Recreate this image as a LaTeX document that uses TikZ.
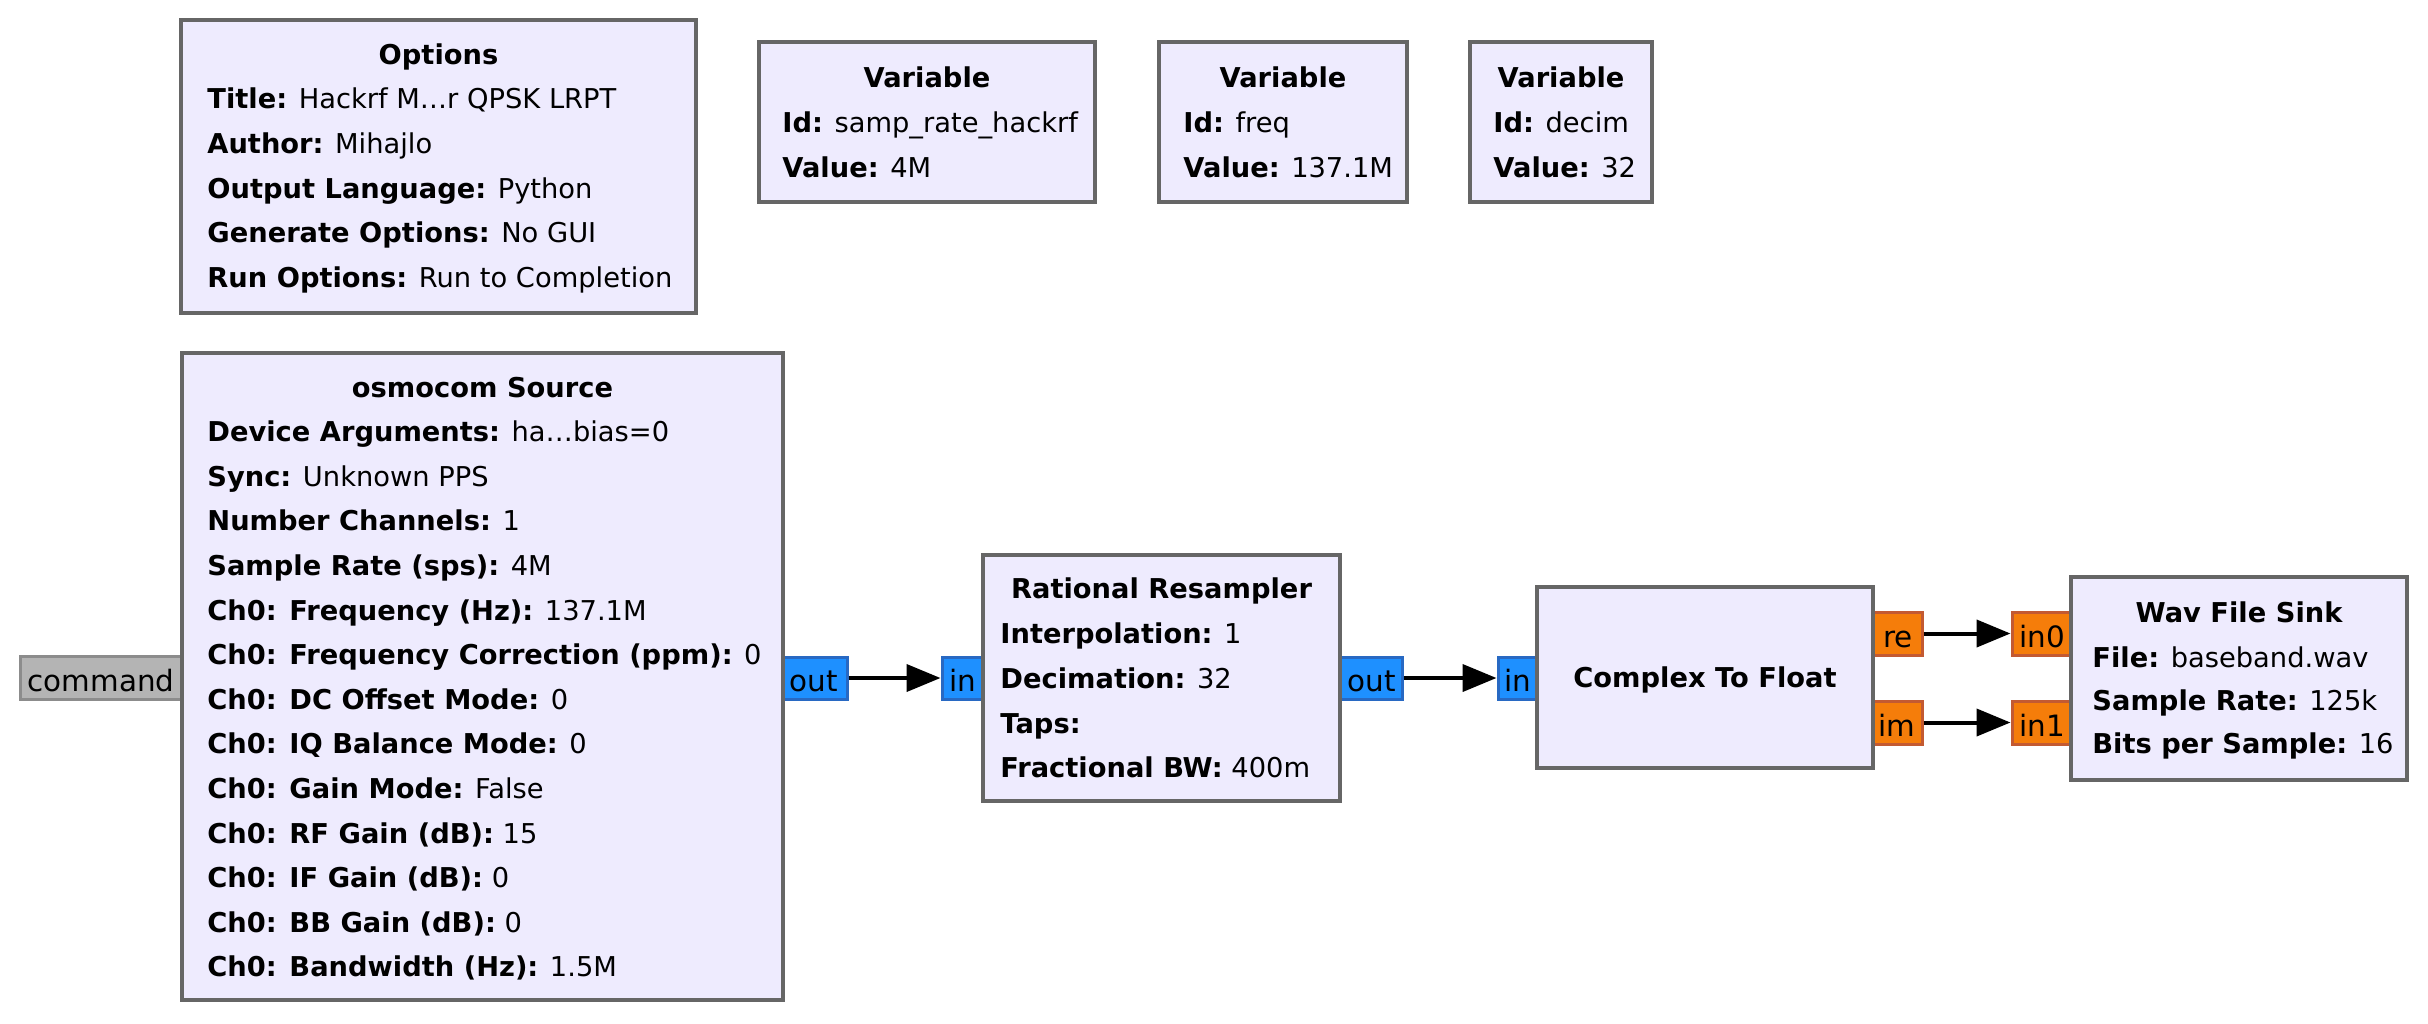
\documentclass[tikz,border=0pt]{standalone}
\usepackage{fontspec}
\setmainfont{DejaVu Sans}
\usetikzlibrary{arrows.meta,fit}
\definecolor{blkfill}{RGB}{238,235,254}
\definecolor{blkdraw}{RGB}{102,102,102}
\definecolor{bluefill}{RGB}{30,144,255}
\definecolor{bluedraw}{RGB}{40,105,195}
\definecolor{orfill}{RGB}{245,125,10}
\definecolor{ordraw}{RGB}{195,90,50}
\definecolor{cmdfill}{RGB}{180,180,180}
\definecolor{cmddraw}{RGB}{140,140,140}
\begin{document}
\begin{tikzpicture}[x=0.5pt,y=-0.5pt,
  blk/.style={draw=blkdraw,fill=blkfill,line width=2.25pt,inner sep=0pt},
  txt/.style={anchor=base west,inner sep=0pt,font=\fontsize{13.65pt}{16pt}\selectfont},
  ttl/.style={anchor=base,inner sep=0pt,font=\fontsize{13.65pt}{16pt}\selectfont\bfseries},
  plabel/.style={anchor=base,inner sep=0pt,font=\fontsize{14.7pt}{17pt}\selectfont,text=black},
  bport/.style={draw=bluedraw,fill=bluefill,line width=1.5pt,inner sep=0pt},
  oport/.style={draw=ordraw,fill=orfill,line width=1.5pt,inner sep=0pt},
  cport/.style={draw=cmddraw,fill=cmdfill,line width=1.5pt,inner sep=0pt},
  conn/.style={line width=2pt,-{Triangle[length=17pt,width=13.5pt]}}]
\useasboundingbox[fill=white] (0,0) rectangle (2428,1023);

% Options
\node[blk,fit={(181,20) (696,313)}] (opt) {};
\node[ttl] (optT) at (438.5,64) {Options};
\node[txt] (opt1) at (207,108) {\textbf{Title:} Hackrf M…r QPSK LRPT};
\node[txt] (opt2) at (207,153) {\textbf{Author:} Mihajlo};
\node[txt] (opt3) at (207,198) {\textbf{Output Language:} Python};
\node[txt] (opt4) at (207,242) {\textbf{Generate Options:} No GUI};
\node[txt] (opt5) at (207,287) {\textbf{Run Options:} Run to Completion};

% Variables
\node[blk,fit={(759,42) (1095,202)}] (v1) {};
\node[ttl] (v1T) at (927,87) {Variable};
\node[txt] (v1a) at (782,132) {\textbf{Id:} samp\_rate\_hackrf};
\node[txt] (v1b) at (782,177) {\textbf{Value:} 4M};

\node[blk,fit={(1159,42) (1407,202)}] (v2) {};
\node[ttl] (v2T) at (1283,87) {Variable};
\node[txt] (v2a) at (1183,132) {\textbf{Id:} freq};
\node[txt] (v2b) at (1183,177) {\textbf{Value:} 137.1M};

\node[blk,fit={(1470,42) (1652,202)}] (v3) {};
\node[ttl] (v3T) at (1561,87) {Variable};
\node[txt] (v3a) at (1493,132) {\textbf{Id:} decim};
\node[txt] (v3b) at (1493,177) {\textbf{Value:} 32};

% ports (drawn under blocks)
\node[cport,fit={(20,656) (182,699)}] (cmd) {};
\node[bport,fit={(783,657) (847,699)}] (oso) {};
\node[bport,fit={(942,657) (983,699)}] (rri) {};
\node[bport,fit={(1340,657) (1402,699)}] (rro) {};
\node[bport,fit={(1498,657) (1537,699)}] (cfi) {};
\node[oport,fit={(1873,612) (1922,655)}] (cfre) {};
\node[oport,fit={(1873,701) (1922,744)}] (cfim) {};
\node[oport,fit={(2012,612) (2071,655)}] (wi0) {};
\node[oport,fit={(2012,701) (2071,744)}] (wi1) {};
\node[plabel] (cmdL) at (101,691.5) {command};
\node[plabel] (osoL) at (814,691.5) {out};
\node[plabel] (rriL) at (963,691.5) {in};
\node[plabel] (rroL) at (1372,691.5) {out};
\node[plabel] (cfiL) at (1518,691.5) {in};
\node[plabel] (cfreL) at (1898,647.5) {re};
\node[plabel] (cfimL) at (1897,736.5) {im};
\node[plabel] (wi0L) at (2042,647.5) {in0};
\node[plabel] (wi1L) at (2042,736.5) {in1};

% osmocom Source
\node[blk,fit={(182,353) (783,1000)}] (osm) {};
\node[ttl] (osmT) at (482.5,397) {osmocom Source};
\node[txt] (os1) at (207,441.6) {\textbf{Device Arguments:} ha…bias=0};
\node[txt] (os2) at (207,486.2) {\textbf{Sync:} Unknown PPS};
\node[txt] (os3) at (207,530.8) {\textbf{Number Channels:} 1};
\node[txt] (os4) at (207,575.4) {\textbf{Sample Rate (sps):} 4M};
\node[txt] (os5) at (207,620) {\textbf{Ch0: Frequency (Hz):} 137.1M};
\node[txt] (os6) at (207,664.6) {\textbf{Ch0: Frequency Correction (ppm):} 0};
\node[txt] (os7) at (207,709.2) {\textbf{Ch0: DC Offset Mode:} 0};
\node[txt] (os8) at (207,753.8) {\textbf{Ch0: IQ Balance Mode:} 0};
\node[txt] (os9) at (207,798.4) {\textbf{Ch0: Gain Mode:} False};
\node[txt] (os10) at (207,843) {\textbf{Ch0: RF Gain (dB):} 15};
\node[txt] (os11) at (207,887.6) {\textbf{Ch0: IF Gain (dB):} 0};
\node[txt] (os12) at (207,932.2) {\textbf{Ch0: BB Gain (dB):} 0};
\node[txt] (os13) at (207,976.8) {\textbf{Ch0: Bandwidth (Hz):} 1.5M};

% Rational Resampler
\node[blk,fit={(983,555) (1340,801)}] (rr) {};
\node[ttl] (rrT) at (1161.5,598) {Rational Resampler};
\node[txt] (rr1) at (1000,643) {\textbf{Interpolation:} 1};
\node[txt] (rr2) at (1000,688) {\textbf{Decimation:} 32};
\node[txt] (rr3) at (1000,733) {\textbf{Taps:}};
\node[txt] (rr4) at (1000,777) {\textbf{Fractional BW:} 400m};

% Complex To Float
\node[blk,fit={(1537,587) (1873,768)}] (cf) {};
\node[ttl] (cfT) at (1705,687) {Complex To Float};

% Wav File Sink
\node[blk,fit={(2071,577) (2407,780)}] (wav) {};
\node[ttl] (wavT) at (2239,622) {Wav File Sink};
\node[txt] (wav1) at (2092,667) {\textbf{File:} baseband.wav};
\node[txt] (wav2) at (2092,710) {\textbf{Sample Rate:} 125k};
\node[txt] (wav3) at (2092,753) {\textbf{Bits per Sample:} 16};

% connections
\draw[conn] (oso.east) -- (rri.west);
\draw[conn] (rro.east) -- (cfi.west);
\draw[conn] (cfre.east) -- (wi0.west);
\draw[conn] (cfim.east) -- (wi1.west);
\end{tikzpicture}
\end{document}
